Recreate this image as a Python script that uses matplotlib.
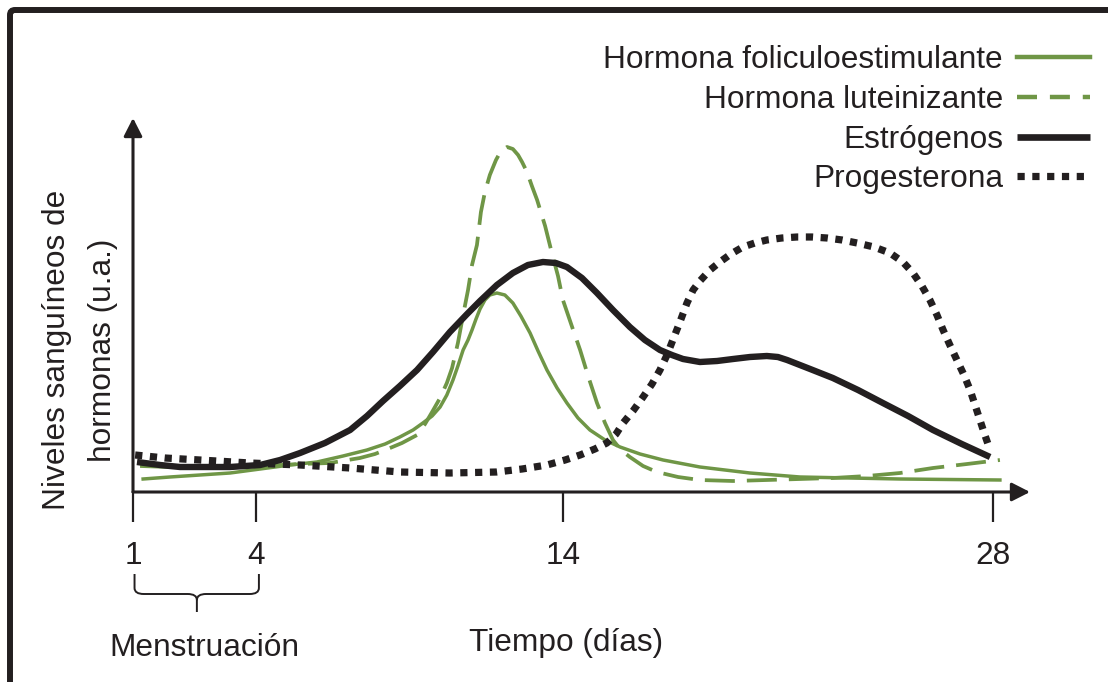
import matplotlib.pyplot as plt
from matplotlib.lines import Line2D
from matplotlib.path import Path
from matplotlib.patches import PathPatch, FancyBboxPatch

plt.rcParams['font.family'] = ['Liberation Sans', 'DejaVu Sans']

# dia del ciclo (0 = primer dia) y nivel en unidades arbitrarias
fsh_dia = [0.33, 1.20, 2.18, 3.16, 4.14, 5.11, 5.99, 6.84, 7.62, 8.21, 8.69, 9.12,
           9.44, 9.74, 10.00, 10.22, 10.42, 10.58, 10.75, 10.91, 11.04, 11.17, 11.30,
           11.46, 11.62, 11.85, 12.11, 12.37, 12.63, 12.93, 13.19, 13.48, 13.81, 14.13,
           14.49, 14.88, 15.37, 15.86, 16.51, 17.26, 18.46, 20.09, 21.72, 23.35, 24.98,
           28.23]
fsh_nivel = [3.25, 3.75, 4.25, 4.75, 5.75, 6.75, 7.5, 9.0, 10.5, 12.0, 13.75, 15.5,
             17.25, 19.0, 21.25, 24.25, 28.0, 31.5, 35.5, 38.0, 40.5, 43.25, 45.75,
             48.0, 49.25, 49.75, 49.25, 47.25, 44.0, 39.75, 35.25, 30.5, 26.0, 22.25,
             18.5, 15.5, 13.0, 11.25, 9.5, 8.0, 6.25, 4.75, 3.75, 3.5, 3.25,
             3.0]

lh_dia = [0.23, 1.20, 2.18, 3.16, 4.14, 5.44, 6.41, 7.39, 7.88, 8.37, 8.76, 9.25,
          9.51, 9.74, 10.00, 10.22, 10.39, 10.58, 10.75, 10.91, 11.04, 11.20, 11.33,
          11.46, 11.62, 11.82, 11.98, 12.18, 12.37, 12.54, 12.67, 12.83, 12.99, 13.16,
          13.42, 13.64, 13.84, 14.00, 14.30, 14.56, 14.82, 15.11, 15.37, 15.63, 15.89,
          16.18, 16.61, 17.06, 17.75, 18.46, 19.54, 20.64, 21.72, 22.79, 23.90, 24.98,
          26.05, 27.16, 28.23]
lh_nivel = [6.5, 6.25, 6.25, 6.25, 6.5, 7.0, 7.25, 8.5, 9.5, 11.0, 12.25, 14.25,
            17.0, 20.0, 23.5, 27.25, 31.0, 37.25, 44.25, 50.5, 56.75, 61.75, 70.0,
            75.0, 79.25, 83.0, 85.25, 86.25, 85.75, 84.25, 82.5, 80.0, 76.5, 73.0,
            66.5, 59.75, 54.0, 48.0, 41.25, 35.5, 29.0, 22.25, 17.25, 13.0, 10.5,
            8.75, 6.5, 5.0, 3.75, 3.0, 2.75, 3.0, 3.25, 3.5, 4.0, 4.75,
            6.0, 7.0, 8.0]

estr_dia = [0.13, 0.88, 1.53, 2.18, 3.16, 4.14, 4.79, 5.44, 6.25, 7.07, 7.62, 8.14,
            8.69, 9.25, 9.77, 10.32, 10.88, 11.30, 11.85, 12.37, 12.86, 13.35, 13.77,
            14.13, 14.62, 15.11, 15.63, 16.18, 16.67, 17.16, 17.55, 17.91, 18.46, 19.02,
            19.54, 20.09, 20.64, 21.00, 21.30, 22.05, 22.79, 23.61, 24.42, 25.24, 26.05,
            26.99, 27.91]
estr_nivel = [7.5, 6.75, 6.25, 6.25, 6.25, 6.75, 8.0, 9.75, 12.25, 15.5, 19.0, 22.75,
              26.5, 30.5, 35.0, 40.0, 44.5, 47.75, 51.75, 54.75, 56.75, 57.5, 57.25,
              56.25, 53.5, 49.75, 45.5, 41.25, 38.0, 35.5, 34.25, 33.25, 32.5, 32.75,
              33.25, 33.75, 34.0, 33.75, 33.0, 30.75, 28.5, 25.5, 22.25, 19.0, 15.5,
              12.0, 8.75]

prog_dia = [0.07, 1.04, 2.18, 3.81, 5.44, 7.07, 8.69, 10.32, 11.85, 12.67, 13.48, 14.07,
            14.56, 15.04, 15.43, 15.73, 15.96, 16.28, 16.61, 16.90, 17.16, 17.39, 17.58,
            17.81, 18.04, 18.24, 18.46, 18.79, 19.11, 19.47, 19.86, 20.25, 20.64, 21.13,
            21.62, 22.11, 22.60, 23.09, 23.58, 24.13, 24.65, 25.07, 25.40, 25.69, 25.95,
            26.18, 26.38, 26.60, 26.83, 27.06, 27.26, 27.42, 27.58, 27.74, 27.91]
prog_nivel = [9.25, 8.5, 8.0, 7.25, 6.75, 6.0, 5.0, 4.75, 5.0, 5.75, 6.75, 8.0,
              9.25, 10.75, 12.25, 14.5, 17.25, 20.25, 23.75, 27.0, 30.5, 34.25, 38.0,
              42.5, 47.25, 50.5, 52.75, 55.5, 57.5, 59.5, 61.25, 62.25, 63.0, 63.5,
              63.75, 63.75, 63.5, 63.0, 62.25, 61.25, 59.75, 57.5, 54.75, 51.5, 48.0,
              44.25, 40.5, 36.75, 33.0, 29.25, 25.5, 21.75, 18.0, 14.25, 10.5]

dias_pos = [0, 4, 14, 28]
dias_lab = ['1', '4', '14', '28']
nombres = ['Hormona foliculoestimulante', 'Hormona luteinizante', 'Estrógenos', 'Progesterona']

verde = '#6f9646'
negro = '#231f20'
fs = 22.8

fig = plt.figure(figsize=(11.08, 6.82), dpi=100)
ax = fig.add_axes([133 / 1108, 190 / 682, 897 / 1108, 374 / 682])
ax.set_xlim(0, 29.21)
ax.set_ylim(0, 93.5)

ax.plot(fsh_dia, fsh_nivel, color=verde, lw=2.5, solid_joinstyle='round')
ax.plot(lh_dia, lh_nivel, color=verde, lw=2.7, dashes=(8, 3.2), dash_joinstyle='round')
ax.plot(estr_dia, estr_nivel, color=negro, lw=4.6, solid_capstyle='butt',
        solid_joinstyle='round')
ax.plot(prog_dia, prog_nivel, color=negro, lw=5.2, dashes=(1, 1.05), dash_capstyle='butt')

# ejes con flecha
for sp in ax.spines.values():
    sp.set_visible(False)
flecha = dict(arrowstyle='-|>,head_length=0.55,head_width=0.28', lw=2.2,
              color=negro, shrinkA=0, shrinkB=0, mutation_scale=20)
ax.annotate('', xy=(1, 0), xytext=(0, 0), xycoords='axes fraction', arrowprops=flecha)
ax.annotate('', xy=(0, 1), xytext=(0, 0), xycoords='axes fraction', arrowprops=flecha)

ax.set_yticks([])
ax.set_xticks(dias_pos)
ax.set_xticklabels(dias_lab)
ax.tick_params(axis='x', direction='out', length=21.6, width=1.6, color=negro,
               pad=13.5, labelsize=fs, labelcolor=negro)

# llave de la menstruacion
x0, x1, xm = 0.05, 4.1, 2.08
yt, yb, yp = -20.5, -25.5, -30.0
verts = [(x0, yt), (x0, yb + 1.5), (x0, yb), (x0 + 0.3, yb), (xm - 0.3, yb),
         (xm, yb), (xm, yb - 1.5), (xm, yp),
         (xm, yb - 1.5), (xm, yb), (xm + 0.3, yb), (x1 - 0.3, yb),
         (x1, yb), (x1, yb + 1.5), (x1, yt)]
codes = [Path.MOVETO, Path.LINETO, Path.CURVE3, Path.CURVE3, Path.LINETO,
         Path.CURVE3, Path.CURVE3, Path.LINETO,
         Path.MOVETO, Path.CURVE3, Path.CURVE3, Path.LINETO,
         Path.CURVE3, Path.CURVE3, Path.LINETO]
ax.add_patch(PathPatch(Path(verts, codes), fill=False, lw=1.4, edgecolor=negro,
                       clip_on=False))

fig.text(204 / 1108, 1 - 648 / 682, 'Menstruación', fontsize=fs, color=negro,
         ha='center', va='center')
fig.text(566 / 1108, 1 - 643 / 682, 'Tiempo (días)', fontsize=fs, color=negro,
         ha='center', va='center')
fig.text(80 / 1108, 1 - 350 / 682, 'Niveles sanguíneos de\nhormonas (u.a.)',
         fontsize=fs, color=negro, rotation=90, ha='center', va='center',
         multialignment='center', linespacing=1.72)

# leyenda con muestras de trazo propias
h_leg = [Line2D([], [], color=verde, lw=3.2),
         Line2D([], [], color=verde, lw=3.2, dashes=(4.5, 2.9)),
         Line2D([], [], color=negro, lw=4.8, solid_capstyle='butt'),
         Line2D([], [], color=negro, lw=5.2, dashes=(1, 1.05), dash_capstyle='butt')]
leg = fig.legend(h_leg, nombres, loc='upper right', bbox_to_anchor=(1090 / 1108, 1 - 45 / 682),
                 frameon=False, fontsize=fs, markerfirst=False, borderpad=0,
                 borderaxespad=0, labelspacing=0.31, handletextpad=0.45, handlelength=2.3)
for t in leg.get_texts():
    t.set_color(negro)

# marco
fig.add_artist(FancyBboxPatch((0.10, -0.4), 11.6, 7.12, boxstyle='round,pad=0,rounding_size=0.05',
                              transform=fig.dpi_scale_trans, fill=False, lw=4.3,
                              edgecolor=negro, clip_on=False))

fig.savefig('out.png', dpi=100)
